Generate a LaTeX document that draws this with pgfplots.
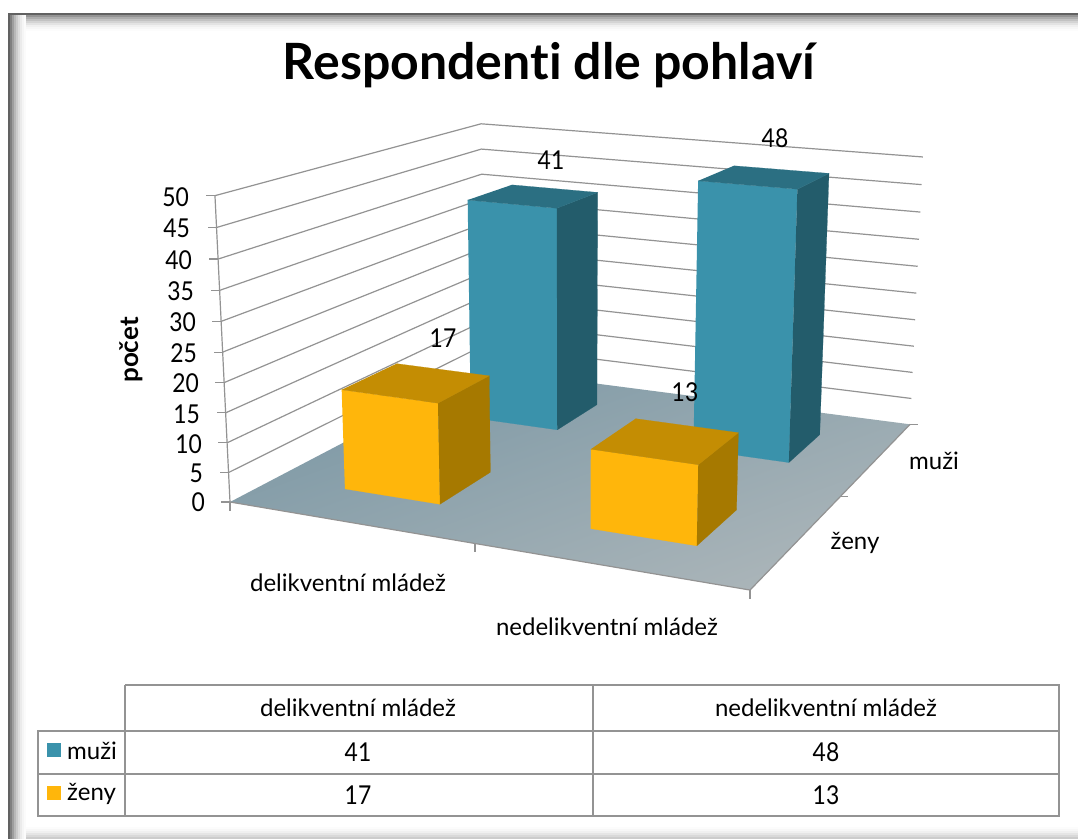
\documentclass[border=0pt]{standalone}
\usepackage{pgfplots}
\pgfplotsset{compat=1.18}
\usepackage{fontspec}
\setmainfont{Lato}[Ligatures=NoCommon]
\newfontfamily\numf{Lato}[FakeStretch=0.88]
\definecolor{gridc}{HTML}{939393}
\definecolor{bluef}{HTML}{3A92AB}
\definecolor{blues}{HTML}{235C6B}
\definecolor{bluet}{HTML}{2B6F82}
\definecolor{yelf}{HTML}{FFB60B}
\definecolor{yels}{HTML}{A67900}
\definecolor{yelt}{HTML}{C48D03}
\definecolor{floorA}{HTML}{7C98A5}
\definecolor{floorB}{HTML}{ABB5B9}
% projection of the 3D chart box: u = category (0..2), v = series (0..2), h = value (0..50)
\pgfmathdeclarefunction{px}{3}{\pgfmathparse{(218.8*#1+190.4*#2+230-0.482*#3)/(1-0.05495*#1+0.13095*#2-0.000844*#3)}}
\pgfmathdeclarefunction{py}{3}{\pgfmathparse{(11.6*#1-18.2*#2+502-6.292*#3)/(1-0.05495*#1+0.13095*#2-0.000844*#3)}}
\pgfplotsset{
  table/proj/.style={row sep=\\,
    x expr={px(\thisrow{u},\thisrow{v},\thisrow{h})},
    y expr={py(\thisrow{u},\thisrow{v},\thisrow{h})}},
  table/projt/.style={row sep=\\,
    x expr={px(\thisrow{u},\thisrow{v},\thisrow{h})+\thisrow{dx}},
    y expr={py(\thisrow{u},\thisrow{v},\thisrow{h})+\thisrow{dy}}},
}
\newcommand{\drawbar}[8]{%
  \addplot[fill=#6,draw=#6,line width=0.2pt] table[proj]{u v h\\ #1 #3 0\\ #2 #3 0\\ #2 #3 #5\\ #1 #3 #5\\};
  \addplot[fill=#7,draw=#7,line width=0.2pt] table[proj]{u v h\\ #2 #3 0\\ #2 #4 0\\ #2 #4 #5\\ #2 #3 #5\\};
  \addplot[fill=#8,draw=#8,line width=0.2pt] table[proj]{u v h\\ #1 #3 #5\\ #2 #3 #5\\ #2 #4 #5\\ #1 #4 #5\\};
}
\newcommand{\txt}[1]{\fontsize{#1}{#1}\selectfont}
\newcommand{\num}{\numf\txt{26}}
\newcommand{\tl}[3]{\node[anchor=east,inner sep=0pt,font=\num] at (axis cs:#2,#3) {#1};}
% frame shadow strips: from, to, percent of black
\newcommand{\hs}[3]{\fill[black!#3] (axis cs:8,#1) rectangle (axis cs:1078,#2);}
\newcommand{\vs}[3]{\fill[black!#3] (axis cs:#1,14) rectangle (axis cs:#2,839);}
\begin{document}
\begin{tikzpicture}
\begin{axis}[
  scale only axis, width=1078pt, height=839pt,
  xmin=0, xmax=1078, ymin=0, ymax=839, y dir=reverse,
  hide axis, clip=false]
% page and frame
\fill[white] (axis cs:0,0) rectangle (axis cs:1078,839);
\hs{15}{17}{42}\hs{17}{19}{32}\hs{19}{21}{24}\hs{21}{23}{17}\hs{23}{25}{11}\hs{25}{27}{6}\hs{27}{29}{3}\hs{29}{31}{1}
\hs{827}{829}{1}\hs{829}{831}{3}\hs{831}{833}{6}\hs{833}{835}{10}\hs{835}{837}{15}\hs{837}{839}{20}
\vs{10}{12}{50}\vs{12}{14}{38}\vs{14}{16}{28}\vs{16}{18}{20}\vs{18}{20}{13}\vs{20}{22}{8}\vs{22}{24}{4}\vs{24}{26}{1.5}
\fill[black!62] (axis cs:8,13) rectangle (axis cs:1078,15);
\fill[black!62] (axis cs:8,13) rectangle (axis cs:10,839);
% walls
\pgfplotsinvokeforeach{5,10,...,50}{
  \addplot[gridc,line width=1.2pt] table[proj]{u v h\\ 0 0 #1\\ 0 2 #1\\ 2 2 #1\\};
}
% floor
\addplot[shade,draw=none,top color=floorA,bottom color=floorB,shading angle=20] table[proj]{u v h\\ 0 0 0\\ 2 0 0\\ 2 2 0\\ 0 2 0\\};
\addplot[gridc,line width=1.2pt] table[proj]{u v h\\ 0 0 0\\ 2 0 0\\ 2 2 0\\};
\addplot[gridc,line width=1.2pt] table[proj]{u v h\\ 0 0 0\\ 0 0 50\\};
% tick marks
\pgfplotsinvokeforeach{0,5,...,50}{
  \addplot[gridc,line width=1.2pt] table[projt]{u v h dx dy\\ 0 0 #1 0 0\\ 0 0 #1 -9 0\\};
}
\pgfplotsinvokeforeach{0,1,2}{
  \addplot[gridc,line width=1.2pt] table[projt]{u v h dx dy\\ #1 0 0 0 0\\ #1 0 0 0 9\\};
}
\pgfplotsinvokeforeach{1,2}{
  \addplot[gridc,line width=1.2pt] table[projt]{u v h dx dy\\ 2 #1 0 0 0\\ 2 #1 0 8 0\\};
}
% bars: back row (muži) first, then front row (ženy)
\drawbar{0.3}{0.7}{1.3}{1.7}{41}{bluef}{blues}{bluet}
\drawbar{1.3}{1.7}{1.3}{1.7}{48}{bluef}{blues}{bluet}
\drawbar{0.3}{0.7}{0.3}{0.7}{17}{yelf}{yels}{yelt}
\drawbar{1.3}{1.7}{0.3}{0.7}{13}{yelf}{yels}{yelt}
% value labels
\node[font=\num] at (axis cs:551,160) {41};
\node[font=\num] at (axis cs:775,138) {48};
\node[font=\num] at (axis cs:443,338) {17};
\node[font=\num] at (axis cs:685,392) {13};
% tick labels
\tl{50}{189}{197}\tl{45}{190}{228}\tl{40}{192}{260}\tl{35}{194}{291}\tl{30}{196}{322}\tl{25}{197}{353}
\tl{20}{199}{383}\tl{15}{200}{414}\tl{10}{202}{444}\tl{5}{203}{473}\tl{0}{205}{502}
\node[rotate=90,font=\bfseries\txt{26}] at (axis cs:131,350) {počet};
\node[font=\txt{24}] at (axis cs:348,583) {delikventní mládež};
\node[font=\txt{24}] at (axis cs:607,627) {nedelikventní mládež};
\node[font=\txt{24}] at (axis cs:934,461) {muži};
\node[font=\txt{24}] at (axis cs:855,543) {ženy};
% title
\node[font=\bfseries\txt{50}] at (axis cs:549,65) {Respondenti dle pohlaví};
% data table
\draw[gridc,line width=2pt] (axis cs:125,685) -- (axis cs:1059,685) -- (axis cs:1059,816) -- (axis cs:38,816) -- (axis cs:38,731) -- (axis cs:1059,731);
\draw[gridc,line width=2pt] (axis cs:38,774) -- (axis cs:1059,774);
\draw[gridc,line width=2pt] (axis cs:125,685) -- (axis cs:125,816);
\draw[gridc,line width=2pt] (axis cs:593,685) -- (axis cs:593,816);
\node[font=\txt{24}] at (axis cs:358,708) {delikventní mládež};
\node[font=\txt{24}] at (axis cs:826,708) {nedelikventní mládež};
\node[font=\num] at (axis cs:358,752) {41};
\node[font=\num] at (axis cs:826,752) {48};
\node[font=\num] at (axis cs:358,795) {17};
\node[font=\num] at (axis cs:826,795) {13};
\fill[bluef] (axis cs:47,743) rectangle (axis cs:61,757);
\fill[yelf] (axis cs:47,786) rectangle (axis cs:61,800);
\node[anchor=west,inner sep=0pt,font=\txt{24}] at (axis cs:67,751) {muži};
\node[anchor=west,inner sep=0pt,font=\txt{24}] at (axis cs:67,794) {ženy};
\end{axis}
\end{tikzpicture}
\end{document}
